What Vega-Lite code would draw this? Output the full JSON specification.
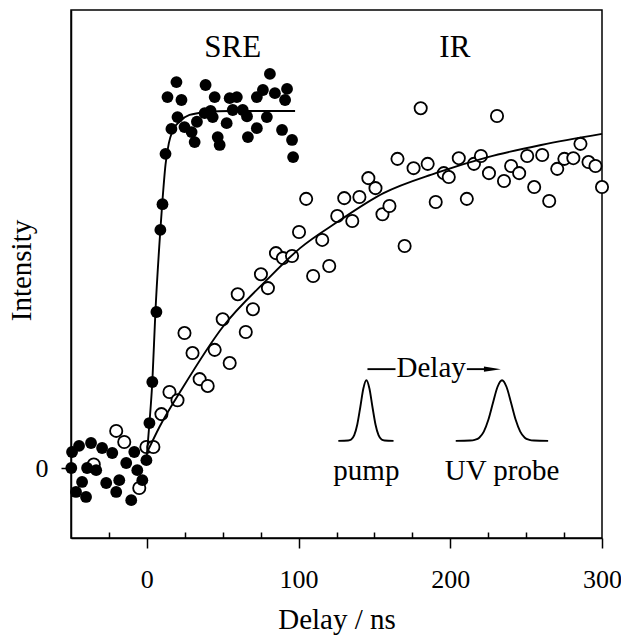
{
  "$schema": "https://vega.github.io/schema/vega-lite/v6.json",
  "width": 531,
  "height": 528,
  "autosize": {"type": "none"},
  "padding": {"left": 71, "top": 10, "right": 19, "bottom": 98},
  "background": "white",
  "config": {
    "view": {"stroke": "black", "strokeWidth": 1.5},
    "font": "Liberation Serif",
    "axis": {
      "grid": false,
      "domainColor": "black",
      "tickColor": "black",
      "labelColor": "black",
      "titleColor": "black",
      "labelFont": "Liberation Serif",
      "titleFont": "Liberation Serif",
      "labelFontSize": 26,
      "titleFontSize": 29,
      "titleFontWeight": "normal",
      "domainWidth": 1.5,
      "tickWidth": 1.5
    }
  },
  "resolve": {"axis": {"x": "independent"}},
  "datasets": {
    "sre": [
      {"t": 19.5, "v": 1.081}, {"t": 13.6, "v": 1.039}, {"t": 22.8, "v": 1.031}, {"t": 38.7, "v": 1.073},
      {"t": 44.7, "v": 1.039}, {"t": 20.2, "v": 0.983}, {"t": 16.2, "v": 0.95}, {"t": 24.8, "v": 0.955},
      {"t": 31.5, "v": 0.913}, {"t": 29.5, "v": 0.941}, {"t": 38.1, "v": 0.994}, {"t": 43.4, "v": 0.983},
      {"t": 46.7, "v": 0.927}, {"t": 48.0, "v": 0.905}, {"t": 54.6, "v": 1.036}, {"t": 59.3, "v": 1.039},
      {"t": 56.6, "v": 1.003}, {"t": 63.2, "v": 1.003}, {"t": 52.6, "v": 0.966}, {"t": 66.6, "v": 0.927},
      {"t": 72.5, "v": 0.952}, {"t": 79.1, "v": 0.983}, {"t": 72.5, "v": 1.039}, {"t": 76.5, "v": 1.059},
      {"t": 81.1, "v": 1.104}, {"t": 84.4, "v": 1.05}, {"t": 92.4, "v": 1.062}, {"t": 91.1, "v": 1.031},
      {"t": 89.1, "v": 0.947}, {"t": 95.7, "v": 0.919}, {"t": 96.4, "v": 0.871}, {"t": 42.0, "v": 1.0},
      {"t": 33.0, "v": 0.97}, {"t": 66.0, "v": 0.985},
      {"t": 12.3, "v": 0.88}, {"t": 10.3, "v": 0.739}, {"t": 8.9, "v": 0.667}, {"t": 6.3, "v": 0.437},
      {"t": 3.6, "v": 0.241}, {"t": 1.7, "v": 0.126}, {"t": -0.3, "v": 0.022}, {"t": -3.0, "v": -0.034},
      {"t": -8.3, "v": 0.045}, {"t": -13.6, "v": 0.014}, {"t": -10.3, "v": -0.09}, {"t": -18.2, "v": -0.034},
      {"t": -20.2, "v": -0.067}, {"t": -26.8, "v": -0.042}, {"t": -22.8, "v": 0.042}, {"t": -29.5, "v": 0.056},
      {"t": -36.8, "v": 0.07}, {"t": -44.7, "v": 0.062}, {"t": -49.3, "v": 0.045}, {"t": -49.8, "v": 0.0},
      {"t": -42.7, "v": -0.039}, {"t": -46.7, "v": -0.067}, {"t": -40.1, "v": -0.081}, {"t": -39.4, "v": 0.0},
      {"t": -33.4, "v": -0.006}, {"t": -6.3, "v": -0.006}
    ],
    "ir": [
      {"t": -35, "v": 0.01}, {"t": -20.2, "v": 0.104}, {"t": -14.9, "v": 0.073}, {"t": -5.0, "v": -0.056},
      {"t": -0.3, "v": 0.059}, {"t": 4.3, "v": 0.059}, {"t": 9.6, "v": 0.151}, {"t": 14.9, "v": 0.213},
      {"t": 20.2, "v": 0.19}, {"t": 24.8, "v": 0.378}, {"t": 30.1, "v": 0.322}, {"t": 34.8, "v": 0.249},
      {"t": 40.1, "v": 0.23}, {"t": 44.7, "v": 0.331}, {"t": 50.0, "v": 0.417}, {"t": 54.6, "v": 0.294},
      {"t": 59.9, "v": 0.487}, {"t": 65.2, "v": 0.381}, {"t": 69.9, "v": 0.445}, {"t": 75.2, "v": 0.543},
      {"t": 79.8, "v": 0.504}, {"t": 85.1, "v": 0.602}, {"t": 89.7, "v": 0.588}, {"t": 95.7, "v": 0.594},
      {"t": 100.3, "v": 0.661}, {"t": 105.0, "v": 0.754}, {"t": 109.6, "v": 0.538}, {"t": 115.6, "v": 0.639},
      {"t": 120.2, "v": 0.566}, {"t": 125.5, "v": 0.706}, {"t": 130.1, "v": 0.756}, {"t": 135.4, "v": 0.692},
      {"t": 140.1, "v": 0.759}, {"t": 146.0, "v": 0.812}, {"t": 150.7, "v": 0.784}, {"t": 155.3, "v": 0.711},
      {"t": 159.9, "v": 0.734}, {"t": 165.2, "v": 0.866}, {"t": 169.9, "v": 0.622}, {"t": 175.8, "v": 0.84},
      {"t": 180.5, "v": 1.008}, {"t": 185.1, "v": 0.852}, {"t": 190.4, "v": 0.745}, {"t": 195.7, "v": 0.826},
      {"t": 199.0, "v": 0.815}, {"t": 205.6, "v": 0.868}, {"t": 210.9, "v": 0.754}, {"t": 215.6, "v": 0.852},
      {"t": 220.2, "v": 0.874}, {"t": 225.5, "v": 0.826}, {"t": 230.8, "v": 0.986}, {"t": 235.4, "v": 0.804},
      {"t": 240.1, "v": 0.846}, {"t": 245.4, "v": 0.826}, {"t": 250.7, "v": 0.874}, {"t": 255.3, "v": 0.787},
      {"t": 260.6, "v": 0.877}, {"t": 265.2, "v": 0.748}, {"t": 270.5, "v": 0.838}, {"t": 275.2, "v": 0.866},
      {"t": 281.1, "v": 0.868}, {"t": 285.8, "v": 0.908}, {"t": 291.1, "v": 0.857}, {"t": 295.7, "v": 0.846},
      {"t": 300, "v": 0.787}
    ],
    "lines": [
      {"s": "sre", "t": 0, "v": 0.036}, {"s": "sre", "t": 1.7, "v": 0.126}, {"s": "sre", "t": 3.6, "v": 0.241},
      {"s": "sre", "t": 5.6, "v": 0.434}, {"s": "sre", "t": 8.9, "v": 0.667}, {"s": "sre", "t": 10.3, "v": 0.75},
      {"s": "sre", "t": 12.3, "v": 0.85}, {"s": "sre", "t": 14.5, "v": 0.91}, {"s": "sre", "t": 17, "v": 0.945},
      {"s": "sre", "t": 21.5, "v": 0.97}, {"s": "sre", "t": 28.1, "v": 0.989}, {"s": "sre", "t": 39.4, "v": 0.997},
      {"s": "sre", "t": 54.6, "v": 1.0}, {"s": "sre", "t": 97.7, "v": 1.0},
      {"s": "ir", "t": 0.3, "v": 0.045}, {"s": "ir", "t": 8.3, "v": 0.115}, {"s": "ir", "t": 23.5, "v": 0.224},
      {"s": "ir", "t": 50, "v": 0.395}, {"s": "ir", "t": 79.1, "v": 0.527}, {"s": "ir", "t": 101, "v": 0.616},
      {"s": "ir", "t": 125.5, "v": 0.689}, {"s": "ir", "t": 156, "v": 0.77}, {"s": "ir", "t": 190.4, "v": 0.826},
      {"s": "ir", "t": 224.8, "v": 0.871}, {"s": "ir", "t": 259.9, "v": 0.905}, {"s": "ir", "t": 300, "v": 0.936},
      {"s": "pump", "t": 126.2, "v": 0.076}, {"s": "pump", "t": 132.7, "v": 0.077}, {"s": "pump", "t": 134.7, "v": 0.08},
      {"s": "pump", "t": 136.7, "v": 0.092}, {"s": "pump", "t": 138.7, "v": 0.122}, {"s": "pump", "t": 140.7, "v": 0.171},
      {"s": "pump", "t": 142.7, "v": 0.223}, {"s": "pump", "t": 144.7, "v": 0.246}, {"s": "pump", "t": 146.7, "v": 0.223},
      {"s": "pump", "t": 148.7, "v": 0.171}, {"s": "pump", "t": 150.7, "v": 0.122}, {"s": "pump", "t": 152.7, "v": 0.092},
      {"s": "pump", "t": 154.7, "v": 0.08}, {"s": "pump", "t": 156.7, "v": 0.077}, {"s": "pump", "t": 162.6, "v": 0.076},
      {"s": "probe", "t": 203.6, "v": 0.076}, {"s": "probe", "t": 213.1, "v": 0.077}, {"s": "probe", "t": 216.1, "v": 0.079},
      {"s": "probe", "t": 219.1, "v": 0.085}, {"s": "probe", "t": 222.1, "v": 0.102}, {"s": "probe", "t": 225.1, "v": 0.135},
      {"s": "probe", "t": 228.1, "v": 0.182}, {"s": "probe", "t": 231.1, "v": 0.227}, {"s": "probe", "t": 234.1, "v": 0.246},
      {"s": "probe", "t": 237.1, "v": 0.227}, {"s": "probe", "t": 240.1, "v": 0.182}, {"s": "probe", "t": 243.1, "v": 0.135},
      {"s": "probe", "t": 246.1, "v": 0.102}, {"s": "probe", "t": 249.1, "v": 0.085}, {"s": "probe", "t": 252.1, "v": 0.079},
      {"s": "probe", "t": 255.1, "v": 0.077}, {"s": "probe", "t": 264.5, "v": 0.076},
      {"s": "dashL", "t": 145.4, "v": 0.277}, {"s": "dashL", "t": 163.9, "v": 0.277},
      {"s": "dashR", "t": 210.9, "v": 0.277}, {"s": "dashR", "t": 224, "v": 0.277}
    ],
    "arrow": [{"t": 227.8, "v": 0.277}],
    "bigLabels": [
      {"label": "SRE", "t": 56.6, "v": 1.151},
      {"label": "IR", "t": 203, "v": 1.151}
    ],
    "smallLabels": [
      {"label": "Delay", "t": 187.4, "v": 0.255},
      {"label": "pump", "t": 144.7, "v": -0.034},
      {"label": "UV probe", "t": 234.1, "v": -0.034}
    ]
  },
  "layer": [
    {
      "data": {"name": "ir"},
      "mark": {"type": "point", "shape": "circle", "filled": true, "fill": "white", "stroke": "black", "strokeWidth": 1.8, "size": 150, "opacity": 1},
      "encoding": {
        "x": {
          "field": "t", "type": "quantitative",
          "scale": {"domain": [-50, 300], "nice": false, "zero": false},
          "axis": {"orient": "bottom", "values": [0, 100, 200, 300], "tickSize": 10, "labelPadding": 39, "labelBaseline": "alphabetic", "title": "Delay / ns", "titleBaseline": "alphabetic", "titleY": 90, "labelFlush": false}
        },
        "y": {
          "field": "v", "type": "quantitative",
          "scale": {"domain": [-0.196, 1.283], "nice": false, "zero": false},
          "axis": {"values": [0], "format": "d", "tickSize": 10, "labelPadding": 13, "title": "Intensity", "titleBaseline": "alphabetic", "titleX": -41, "titleY": 260, "titleAngle": -90}
        }
      }
    },
    {
      "data": {"name": "lines"},
      "mark": {"type": "line", "color": "black", "strokeWidth": 1.9, "interpolate": "monotone"},
      "encoding": {
        "x": {"field": "t", "type": "quantitative", "axis": {"orient": "bottom", "values": [-25, 25, 50, 75, 125, 150, 175, 225, 250, 275], "tickSize": -6, "labels": false, "domain": false, "title": null}},
        "y": {"field": "v", "type": "quantitative"},
        "detail": {"field": "s", "type": "nominal"}
      }
    },
    {
      "data": {"name": "sre"},
      "mark": {"type": "point", "shape": "circle", "filled": true, "color": "black", "size": 140, "opacity": 1},
      "encoding": {
        "x": {"field": "t", "type": "quantitative", "axis": null},
        "y": {"field": "v", "type": "quantitative"}
      }
    },
    {
      "data": {"name": "arrow"},
      "mark": {"type": "point", "shape": "M -1 -0.3 L 1 0 L -1 0.3 Z", "filled": true, "color": "black", "size": 289, "opacity": 1},
      "encoding": {
        "x": {"field": "t", "type": "quantitative", "axis": null},
        "y": {"field": "v", "type": "quantitative"}
      }
    },
    {
      "data": {"name": "bigLabels"},
      "mark": {"type": "text", "font": "Liberation Serif", "fontSize": 31, "align": "center", "baseline": "alphabetic", "color": "black"},
      "encoding": {
        "x": {"field": "t", "type": "quantitative", "axis": null},
        "y": {"field": "v", "type": "quantitative"},
        "text": {"field": "label"}
      }
    },
    {
      "data": {"name": "smallLabels"},
      "mark": {"type": "text", "font": "Liberation Serif", "fontSize": 29, "align": "center", "baseline": "alphabetic", "color": "black"},
      "encoding": {
        "x": {"field": "t", "type": "quantitative", "axis": null},
        "y": {"field": "v", "type": "quantitative"},
        "text": {"field": "label"}
      }
    }
  ]
}
